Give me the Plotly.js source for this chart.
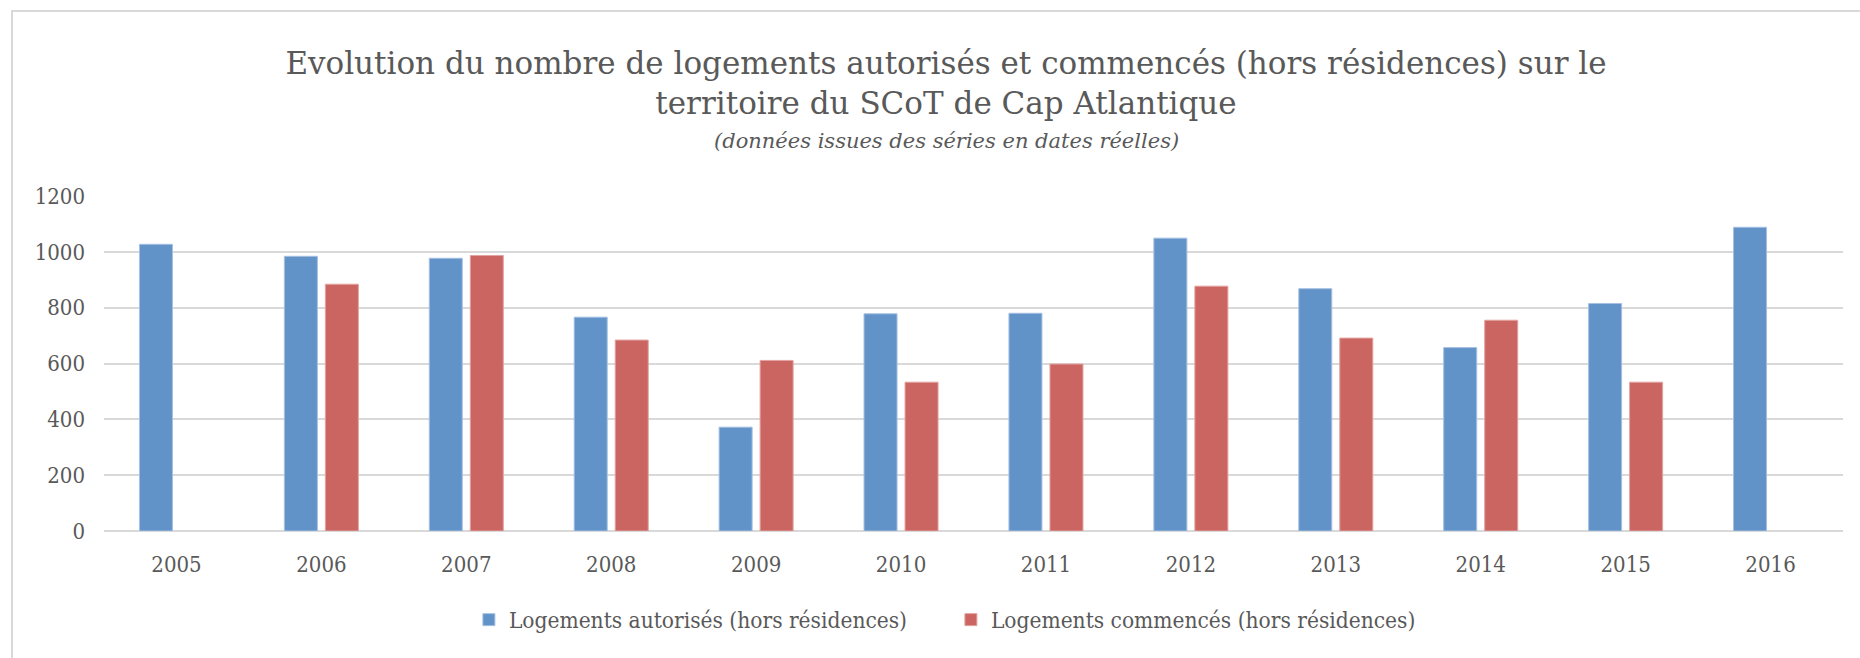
<!DOCTYPE html>
<html>
<head>
<meta charset="utf-8">
<script src="https://cdn.plot.ly/plotly-3.0.1.min.js"></script>
<style>
html,body{margin:0;padding:0;background:#fff;}
#wrap{position:relative;width:1860px;height:658px;overflow:hidden;}
#chart{position:absolute;left:0;top:0;width:1860px;height:658px;}
#frame{position:absolute;left:11px;top:10px;width:1900px;height:700px;border-top:2px solid #D9D9D9;border-left:2px solid #D9D9D9;pointer-events:none;}
</style>
</head>
<body>
<div id="wrap"><div id="chart"></div><div id="frame"></div></div>
<script>
const years = ["2005","2006","2007","2008","2009","2010","2011","2012","2013","2014","2015","2016"];
const autorises = [1027, 984, 977, 766, 372, 778, 780, 1049, 868, 657, 815, 1088];
const commences = [null, 884, 987, 684, 611, 533, 598, 877, 691, 755, 533, null];
const seriesNames = ["Logements autorisés (hors résidences)", "Logements commencés (hors résidences)"];
const yTicks = [0, 200, 400, 600, 800, 1000, 1200];

const FONT = "'DejaVu Serif Condensed', 'DejaVu Serif', serif";
const TFONT = "'DejaVu Serif', serif";
const GREY = "#595959";

const traces = [
  {type:"bar", x:years, y:autorises, name:seriesNames[0],
   marker:{color:"#6193C8", line:{color:"#A5C0E2", width:1}}},
  {type:"bar", x:years, y:commences, name:seriesNames[1],
   marker:{color:"#CB6561", line:{color:"#E2A3A0", width:1}}}
];

const layout = {
  width:1860, height:658,
  paper_bgcolor:"#fff", plot_bgcolor:"#fff",
  margin:{l:104, r:17, t:196, b:127},
  barmode:"group", bargap:0.434, bargroupgap:0.195,
  font:{family:FONT, color:GREY, size:22},
  title:{
    text:"Evolution du nombre de logements autorisés et commencés (hors résidences) sur le<br>territoire du SCoT de Cap Atlantique",
    font:{family:TFONT, size:31, color:GREY},
    x:0.5086, xanchor:"center", xref:"container",
    y:1-73.5/658, yanchor:"middle", yref:"container"
  },
  annotations:[{
    text:"<i>(données issues des séries en dates réelles)</i>",
    xref:"paper", yref:"paper", x:(946-104)/1739, y:(531-141)/335,
    xanchor:"center", yanchor:"middle", showarrow:false,
    font:{family:TFONT, size:21, color:GREY}
  }],
  xaxis:{
    type:"category", showgrid:false, zeroline:false, showline:false,
    ticks:"", tickfont:{family:FONT, size:22, color:GREY}, ticklabelstandoff:18
  },
  yaxis:{
    range:[0,1200], tickvals:yTicks, ticktext:yTicks.map(String),
    showgrid:true, gridcolor:"#D9D9D9", gridwidth:2,
    zeroline:true, zerolinecolor:"#D9D9D9", zerolinewidth:2,
    showline:false, ticks:"", ticklabelstandoff:18,
    tickfont:{family:FONT, size:22, color:GREY}
  },
  showlegend:true,
  legend:{
    orientation:"h", x:0.487, xanchor:"center", y:(531-620)/335, yanchor:"middle",
    font:{family:FONT, size:22.5, color:GREY}, itemwidth:30, traceorder:"normal",
    entrywidth:437, entrywidthmode:"pixels"
  }
};

Plotly.newPlot("chart", traces, layout, {staticPlot:true, displayModeBar:false});
</script>
</body>
</html>
